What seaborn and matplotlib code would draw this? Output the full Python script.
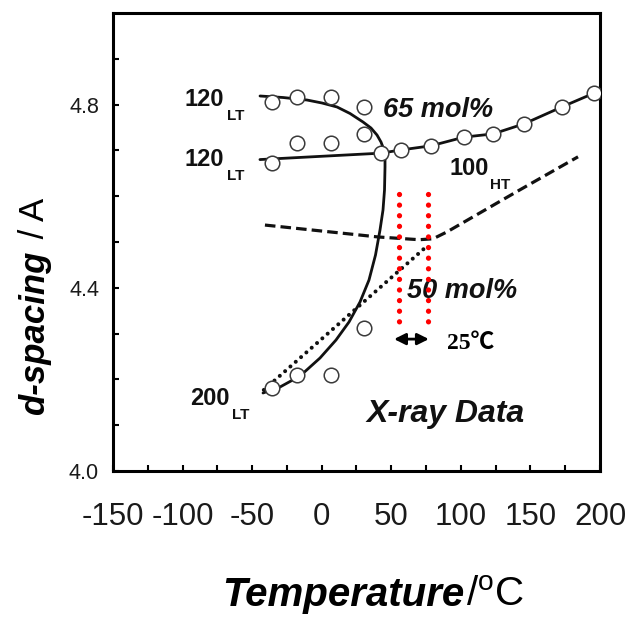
import matplotlib
matplotlib.use("Agg")
import matplotlib.pyplot as plt
import numpy as np
import pandas as pd
import seaborn as sns

# ---- measured reflections: temperature (°C) and d-spacing (Å) ----
t_120lt_upper = [-35.7, -17.8, 6.7, 30.4]
d_120lt_upper = [4.806, 4.817, 4.817, 4.795]
t_120lt_mid = [-17.8, 6.7, 30.4]
d_120lt_mid = [4.716, 4.716, 4.736]
t_120lt_lower = [-35.7, 42.6]
d_120lt_lower = [4.672, 4.694]
t_100ht = [57.0, 78.5, 102.3, 123.1, 145.4, 172.7, 195.7]
d_100ht = [4.701, 4.710, 4.729, 4.736, 4.758, 4.795, 4.825]
t_200lt = [-35.7, -17.8, 6.7, 30.4]
d_200lt = [4.181, 4.210, 4.210, 4.312]

# ---- guide lines ----
# 65 mol%: curved boundary joining the 120_LT and 200_LT branches
t_curve = [-44.35, -27.82, -10.57, 0.21, 10.99, 20.33, 29.68, 35.42, 39.73, 42.61,
           44.77, 45.49, 45.49, 45.13, 44.05, 41.89, 38.66, 33.98, 27.52, 19.61,
           10.27, -1.23, -15.60, -29.98, -42.20]
d_curve = [4.8188, 4.8155, 4.8100, 4.8035, 4.7948, 4.7806, 4.7620, 4.7489, 4.7336, 4.7183,
           4.7009, 4.6834, 4.6638, 4.6135, 4.5699, 4.5262, 4.4716, 4.4170, 4.3690, 4.3253,
           4.2860, 4.2467, 4.2074, 4.1834, 4.1703]
# 65 mol%: lower 120_LT branch and the 100_HT branch
t_120lt_line = [-44.4, 42.6]
d_120lt_line = [4.680, 4.694]
t_100ht_line = [42.6] + t_100ht
d_100ht_line = [4.694] + d_100ht
# 50 mol%: dashed and dotted trends
t_dashed = [-40.8, 40.5, 70.0, 80.0, 90.0, 142.5, 184.2]
d_dashed = [4.537, 4.511, 4.505, 4.507, 4.522, 4.614, 4.686]
t_dotted = [-41.6, 76.4]
d_dotted = [4.177, 4.493]
# transition markers and their spacing
t_transitions = [55.6, 76.4]
d_transition_span = [4.605, 4.321]
arrow_start = 52.0
arrow_width = 25.0
arrow_level = 4.288

x_ticks = [-150, -100, -50, 0, 50, 100, 150, 200]
y_ticks = [4.0, 4.4, 4.8]

sns.set_theme(style="ticks")
plt.rcParams["font.family"] = ["Liberation Sans", "DejaVu Sans"]
plt.rcParams["mathtext.fontset"] = "custom"
plt.rcParams["mathtext.rm"] = "Liberation Sans"

fig = plt.figure(figsize=(6.32, 6.19), dpi=100)
W, H = 632, 619
ax = fig.add_axes([113 / W, 1 - 471 / H, (600 - 113) / W, (471 - 13) / H])

ink = "#111111"
lw_line = 2.0


def line(t, d, **kw):
    sns.lineplot(x=t, y=d, ax=ax, sort=False, estimator=None, legend=False, **kw)


line(t_curve, d_curve, color=ink, linewidth=lw_line, zorder=3)
line(t_120lt_line, d_120lt_line, color=ink, linewidth=lw_line, zorder=3)
line(t_100ht_line, d_100ht_line, color=ink, linewidth=lw_line, zorder=3)
ax.plot(t_dashed, d_dashed, color=ink, linewidth=2.3, linestyle=(0, (3.3, 1.6)), zorder=3)
ax.plot(t_dotted, d_dotted, color=ink, linewidth=2.9, linestyle=(0, (0.01, 1.75)),
        dash_capstyle="round", zorder=3)
for tt in t_transitions:
    ax.plot([tt, tt], d_transition_span, color="#ff0000", linewidth=3.8,
            linestyle=(0, (0.01, 2.0)), dash_capstyle="round", zorder=4)

points = pd.DataFrame({
    "t": t_120lt_upper + t_120lt_mid + t_120lt_lower + t_100ht + t_200lt,
    "d": d_120lt_upper + d_120lt_mid + d_120lt_lower + d_100ht + d_200lt,
})
sns.scatterplot(data=points, x="t", y="d", ax=ax, s=110, facecolor="white",
                edgecolor="#3a3a3a", linewidth=1.1, zorder=5, legend=False)

# temperature gap arrow
ax.annotate("", xy=(arrow_start, arrow_level), xytext=(arrow_start + arrow_width, arrow_level),
            arrowprops=dict(arrowstyle="<|-|>", color="black", lw=2.0,
                            mutation_scale=17, shrinkA=0, shrinkB=0), zorder=6)
ax.text(90.0, 4.266, f"{arrow_width:.0f}℃", fontsize=17, fontweight="bold",
        family=["Liberation Serif", "Noto Sans CJK JP", "DejaVu Sans"],
        ha="left", va="baseline", color="black")


def reflection_label(x, y, main, sub):
    t = ax.text(x, y, main, fontsize=17, fontweight="bold", color=ink,
                ha="left", va="baseline")
    ax.annotate(sub, xy=(1, 0), xycoords=t, xytext=(1.5, 1.5), textcoords="offset points",
                fontsize=11, fontweight="bold", color=ink, ha="left", va="top")


reflection_label(-98.3, 4.797, "120", "LT")
reflection_label(-98.3, 4.666, "120", "LT")
reflection_label(-94.7, 4.144, "200", "LT")
reflection_label(91.5, 4.646, "100", "HT")

ax.text(44.0, 4.773, "65 mol%", fontsize=19.5, fontweight="bold", fontstyle="italic",
        color=ink, ha="left", va="baseline")
ax.text(61.3, 4.378, "50 mol%", fontsize=19.5, fontweight="bold", fontstyle="italic",
        color=ink, ha="left", va="baseline")
ax.text(32.5, 4.107, "X-ray Data", fontsize=23, fontweight="bold", fontstyle="italic",
        color=ink, ha="left", va="baseline")

# axes, ticks and frame
ax.set_xlim(-150, 200)
ax.set_ylim(4.0, 5.0)
ax.set_xticks(x_ticks)
ax.set_xticklabels([str(v) for v in x_ticks])
ax.set_xticks(np.arange(-125, 200, 50), minor=True)
ax.set_yticks(y_ticks)
ax.set_yticklabels([f"{v:.1f}" for v in y_ticks])
ax.set_yticks([4.1, 4.2, 4.3, 4.5, 4.6, 4.7, 4.9], minor=True)
ax.set_xlabel("")
ax.set_ylabel("")
for side in ax.spines.values():
    side.set_linewidth(2.2)
    side.set_color("black")
ax.tick_params(which="both", direction="in", length=4.5, width=1.5, color="black",
               top=False, right=False)
ax.tick_params(axis="x", which="major", labelsize=22.5, pad=22, labelcolor="#1a1a1a")
ax.tick_params(axis="y", which="major", labelsize=15.5, pad=10, labelcolor="#1a1a1a")
ax.grid(False)

# axis titles: bold-italic quantity followed by regular unit
fig.canvas.draw()
renderer = fig.canvas.get_renderer()

x0, xb = 222 / W, 1 - 606 / H
tq = fig.text(x0, xb, "Temperature", fontsize=29, fontweight="bold", fontstyle="italic",
              color="black", ha="left", va="baseline")
wq = tq.get_window_extent(renderer).width / (W)
fig.text(x0 + wq + 0.002, xb, r"/$^{\mathrm{o}}$C", fontsize=29, color="black",
         ha="left", va="baseline")

yx, y0 = 44 / W, 1 - 415 / H
td = fig.text(yx, y0, "d-spacing", fontsize=25, fontweight="bold", fontstyle="italic",
              color="black", ha="left", va="baseline", rotation=90, rotation_mode="anchor")
hd = td.get_window_extent(renderer).height / H
fig.text(yx, y0 + hd + 0.004, " / A", fontsize=25, color="black",
         ha="left", va="baseline", rotation=90, rotation_mode="anchor")

fig.savefig("out.png", dpi=100)
